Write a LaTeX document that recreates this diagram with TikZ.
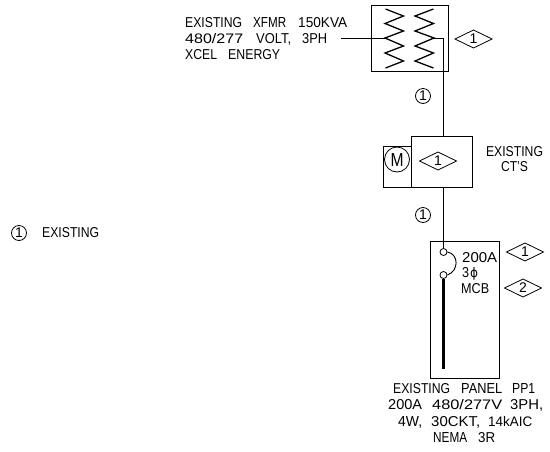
\documentclass[tikz,border=0pt]{standalone}
\usepackage{fontspec}
\usepackage{graphicx}
\setmainfont{Liberation Sans}
\newfontfamily\phifont{DejaVu Sans}
\tikzset{
  x=1pt,y=-1pt,
  wire/.style={draw=black,line width=0.9pt},
  lbl/.style={font=\fontsize{14}{16}\selectfont,align=center,inner sep=0pt,text=black},
  lbll/.style={lbl,anchor=west},
  lblc/.style={lbl},
  tag/.style={draw=black,line width=0.8pt,circle,inner sep=0pt,minimum size=15pt,font=\fontsize{14}{14}\selectfont},
  dia/.style={wire,line width=0.8pt},
  coil/.style={wire,line width=1.3pt,line join=miter},
  term/.style={draw=black,line width=0.8pt,circle,minimum size=7pt,inner sep=0pt},
  boxnw/.style={wire,draw,inner sep=0pt,anchor=north west},
}
\newcommand{\fitline}[2]{\resizebox{#1pt}{10pt}{#2}}
\newcommand{\gp}[1]{\hspace{#1pt}}
\newcommand{\dtag}[3]{%
  \draw[dia] (#1-18.5,#2) -- (#1,#2-9) -- (#1+18.5,#2) -- (#1,#2+9) -- cycle;
  \node[lbl] at (#1,#2) {#3};}
\begin{document}
\begin{tikzpicture}
\useasboundingbox (0,0) rectangle (550,451);
\fill[white] (0,0) rectangle (550,451);
% transformer
\node[boxnw,minimum width=77pt,minimum height=66pt] (xf) at (371,5) {};
\draw[coil] (385.5,9) -- (403.5,16) -- (385,23.5) -- (403.5,31) -- (385,38) -- (403.5,46) -- (385,53) -- (403.5,61) -- (385.5,68);
\draw[coil] (433.5,9) -- (415,16) -- (433.5,23.5) -- (415,31) -- (434,38) -- (415,46) -- (433.5,53) -- (415,61) -- (433.5,68);
\coordinate (lead) at (341,38);
\coordinate (lp) at (385,38);
\draw[wire] (lead) -- (lp);
\node[lbll] at (185,23) {\fitline{57}{EXISTING}\gp{11}\fitline{33}{XFMR}\gp{12}\fitline{49}{150KVA}};
\node[lbll] at (185,39) {\fitline{58}{480/277}\gp{13}\fitline{35}{VOLT,}\gp{11}\fitline{25}{3PH}};
\node[lbll] at (185,55) {\fitline{32}{XCEL}\gp{11}\fitline{52}{ENERGY}};
\coordinate (sec) at (443.5,38);
\coordinate (secj) at (434,38);
% CT
\node[boxnw,minimum width=61pt,minimum height=51pt] (ct) at (411,136) {};
\node[boxnw,minimum width=28pt,minimum height=41pt] (mb) at (383,146) {};
\node[tag,minimum size=25pt] (m) at (397,159.5) {\resizebox{13pt}{13pt}{M}};
\draw[wire] (secj) -- (sec) -- (ct.north -| sec);
% panel
\node[boxnw,minimum width=69pt,minimum height=137pt] (pn) at (430,241) {};
\draw[wire] (ct.south -| sec) -- (pn.north -| sec);
\node[term] (c1) at (443.5,252) {};
\node[term] (c2) at (443.5,275) {};
\draw[wire] (pn.north -| c1) -- (c1);
\draw[wire] (c1.east) .. controls (459,254) and (459,271) .. (c2.east);
\draw[black,line width=2.7pt] (c2.south) -- (443.5,369);
\node[lbll] at (462,258) {\fitline{35}{200A}};
\node[lbll] at (462,274) {\fitline{7}{3}\gp{1}\fitline{8}{\phifont ϕ}};
\node[lbll] at (461,289) {\fitline{28}{MCB}};
\dtag{473.5}{39}{1}
\dtag{438}{161}{1}
\dtag{525}{252}{1}
\dtag{523}{288}{2}
\node[lblc] at (514.5,152) {\fitline{57}{EXISTING}};
\node[lblc] at (514.5,167) {\fitline{27}{CT'S}};
\node[tag] at (423,96) {1};
\node[tag] at (423,215) {1};
\node[tag] at (19,233) {1};
\node[lbll] at (42,233) {\fitline{57}{EXISTING}};
\node[lbll] at (393,389) {\fitline{57}{EXISTING}\gp{11}\fitline{41}{PANEL}\gp{10}\fitline{23}{PP1}};
\node[lbll] at (388,405.5) {\fitline{34}{200A}\gp{10}\fitline{70}{480/277V}\gp{8}\fitline{33}{3PH,}};
\node[lbll] at (398,422) {\fitline{24}{4W,}\gp{9}\fitline{49}{30CKT,}\gp{8}\fitline{44}{14kAIC}};
\node[lbll] at (433,438) {\fitline{34}{NEMA}\gp{11}\fitline{17}{3R}};
\end{tikzpicture}
\end{document}
